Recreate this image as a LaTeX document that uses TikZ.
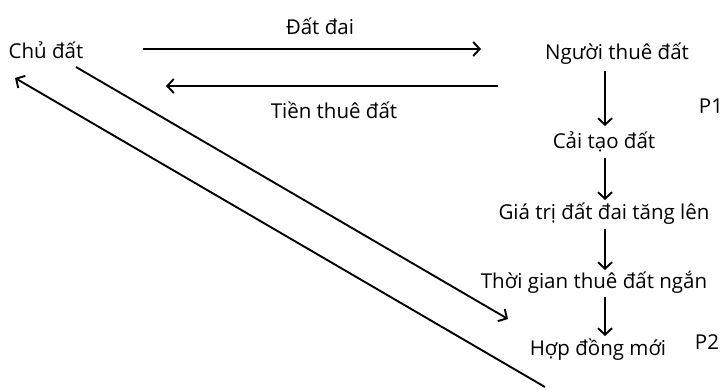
\documentclass[tikz,border=0pt]{standalone}
\usepackage{fontspec}
\setmainfont{Open Sans}
\usetikzlibrary{arrows.meta}
\begin{document}
\begin{tikzpicture}[x=1pt,y=-1pt,
  lbl/.style={inner sep=0pt,font=\fontsize{20.5}{23}\selectfont},
  conn/.style={line width=1.9pt,-{Straight Barb[length=6.5pt,width=14pt,line width=1.9pt]}}]
\useasboundingbox[fill=white] (0,0) rectangle (722,389);
\node[lbl] (chu) at (46,50) {Chủ đất};
\node[lbl] (datdai) at (320,26) {Đất đai};
\node[lbl] (tien) at (334,110) {Tiền thuê đất};
\node[lbl] (nguoi) at (617,54) {Người thuê đất};
\node[lbl] (p1) at (711,106) {P1};
\node[lbl] (caitao) at (604,142) {Cải tạo đất};
\node[lbl] (giatri) at (604,214) {Giá trị đất đai tăng lên};
\node[lbl] (thoigian) at (594,282) {Thời gian thuê đất ngắn};
\node[lbl] (hopdong) at (598,350) {Hợp đồng mới};
\node[lbl] (p2) at (707,342) {P2};
\coordinate (a1s) at (143,49);
\coordinate (a1e) at (481,49);
\coordinate (a2s) at (498,86);
\coordinate (a2e) at (166,86);
\coordinate (d1s) at (76,67);
\coordinate (d1e) at (508,319);
\coordinate (d2s) at (545,387);
\coordinate (d2e) at (15,78);
\draw[conn] (a1s) -- (a1e);
\draw[conn] (a2s) -- (a2e);
\draw[conn] (d1s) -- (d1e);
\draw[conn] (d2s) -- (d2e);
\draw[conn] (nguoi.south -| 605,0) ++(0,6) -- (605,126);
\draw[conn] (605,158) -- (605,200);
\draw[conn] (605,229) -- (605,270);
\draw[conn] (605,297) -- (605,336);
\end{tikzpicture}
\end{document}
